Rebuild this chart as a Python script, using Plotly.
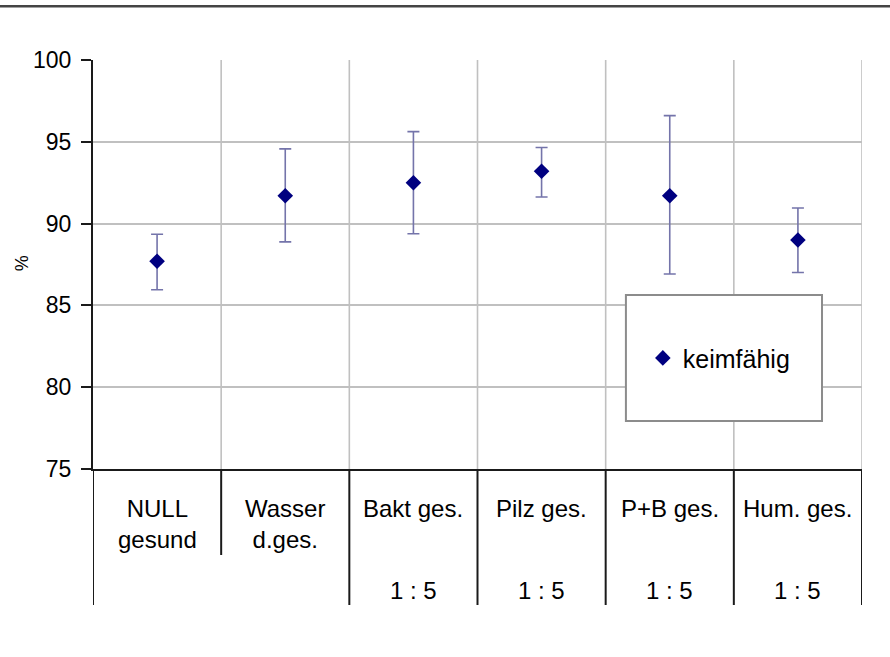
import plotly.graph_objects as go

# ---- data ----
categories = ["NULL<br>gesund", "Wasser<br>d.ges.", "Bakt ges.", "Pilz ges.", "P+B ges.", "Hum. ges."]
sublabels = ["", "", "1 : 5", "1 : 5", "1 : 5", "1 : 5"]
keimfaehig = [87.7, 91.7, 92.5, 93.2, 91.7, 89.0]
err_plus = [1.65, 2.87, 3.12, 1.45, 4.9, 1.95]
err_minus = [1.74, 2.82, 3.12, 1.57, 4.78, 1.99]
y_ticks = [75, 80, 85, 90, 95, 100]

FONT = "Liberation Sans, Arial, sans-serif"
n = len(categories)
xs = list(range(n))

fig = go.Figure()
fig.add_trace(go.Scatter(
    x=xs, y=keimfaehig, mode="markers", name="keimfähig",
    marker=dict(symbol="diamond", size=12, color="#000080"),
    error_y=dict(type="data", symmetric=False, array=err_plus, arrayminus=err_minus,
                 color="#7474aa", thickness=1.6, width=6),
))

shapes = []
# vertical gridlines between categories + right border
for i in range(n):
    shapes.append(dict(type="line", xref="x", yref="y", x0=i + 0.5, x1=i + 0.5,
                       y0=y_ticks[0], y1=y_ticks[-1], layer="below",
                       line=dict(color="#c0c0c0", width=1.6)))
# category separators below the axis
sep_bottom = -0.3325
for i in range(n + 1):
    b = i - 0.5
    y0 = -0.2103 if i == 1 else sep_bottom
    shapes.append(dict(type="line", xref="x", yref="paper", x0=b, x1=b, y0=0, y1=y0,
                       line=dict(color="#1a1a1a", width=2)))
# top border line of the chart image
shapes.append(dict(type="line", xref="paper", yref="paper", x0=-0.125, x1=1.04,
                   y0=1.1315, y1=1.1315, line=dict(color="#444444", width=2.5)))
# legend box
shapes.append(dict(type="rect", xref="paper", yref="paper", x0=0.693, x1=0.948,
                   y0=0.1174, y1=0.4254, fillcolor="white",
                   line=dict(color="#8c8c8c", width=2), layer="above"))

annotations = []
for i, (c, s) in enumerate(zip(categories, sublabels)):
    annotations.append(dict(x=i, y=-0.058, xref="x", yref="paper", text=c, showarrow=False,
                            yanchor="top", xanchor="center", font=dict(size=24, color="black", family=FONT)))
    if s:
        annotations.append(dict(x=i, y=-0.2585, xref="x", yref="paper", text=s, showarrow=False,
                                yanchor="top", xanchor="center", font=dict(size=24, color="black", family=FONT)))
annotations.append(dict(x=-0.092, y=0.5037, xref="paper", yref="paper", text="%", showarrow=False,
                        xanchor="center", yanchor="middle",
                        textangle=-90, font=dict(size=18, color="black", family=FONT)))

fig.update_layout(
    width=890, height=657,
    margin=dict(l=93, r=28, t=60, b=188),
    paper_bgcolor="white", plot_bgcolor="white",
    font=dict(family=FONT, color="black"),
    showlegend=True,
    legend=dict(x=0.715, y=0.271, xanchor="left", yanchor="middle",
                bgcolor="rgba(0,0,0,0)", borderwidth=0, itemwidth=30,
                font=dict(size=25, color="black", family=FONT)),
    xaxis=dict(range=[-0.5, n - 0.5], showgrid=False, zeroline=False,
               showline=True, linecolor="#1a1a1a", linewidth=2,
               showticklabels=False, ticks=""),
    yaxis=dict(range=[y_ticks[0], y_ticks[-1]], tickvals=y_ticks, showgrid=True,
               gridcolor="#c0c0c0", gridwidth=1.6, zeroline=False,
               showline=True, linecolor="#1a1a1a", linewidth=2,
               ticks="outside", ticklen=10, tickcolor="#1a1a1a", tickwidth=2,
               ticklabelstandoff=5,
               tickfont=dict(size=23, color="black", family=FONT)),
    shapes=shapes, annotations=annotations,
)

fig.write_html("out.html", config={"displayModeBar": False},
               post_script="document.body.style.margin='0';")
